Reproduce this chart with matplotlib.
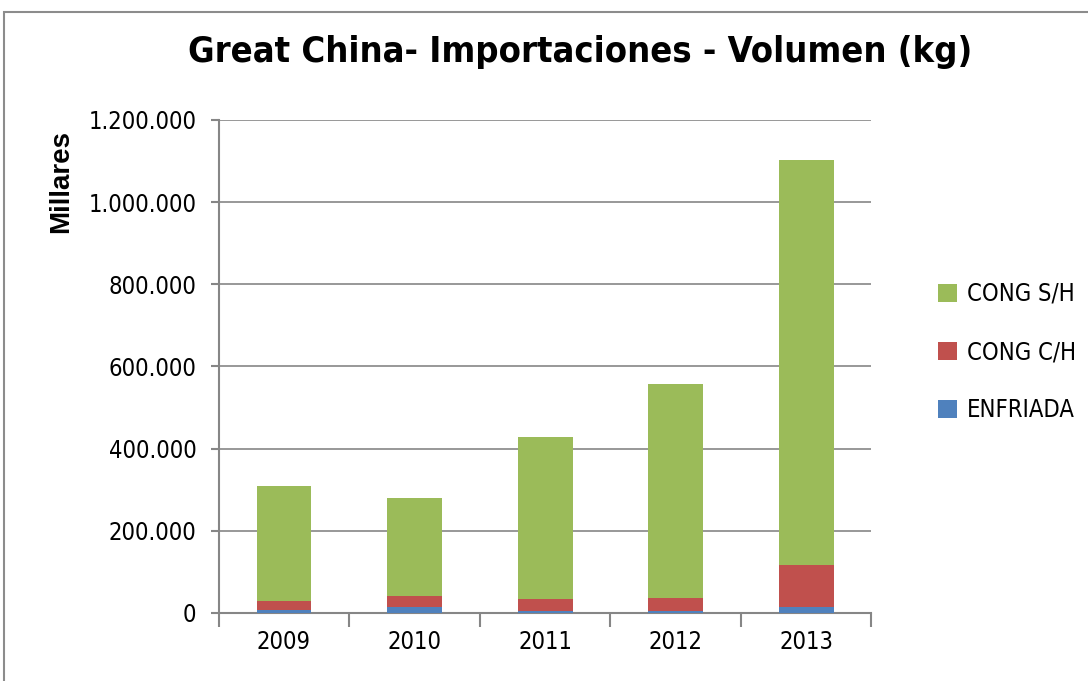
import numpy as np
import matplotlib.pyplot as plt
from matplotlib.patches import Rectangle
from matplotlib.ticker import FuncFormatter

years = ['2009', '2010', '2011', '2012', '2013']
enfriada = [8000, 15000, 6000, 6000, 15000]
cong_ch = [20000, 26000, 27000, 31000, 102000]
cong_sh = [282000, 240000, 395000, 521000, 985000]

plt.rcParams['font.family'] = ['DejaVu Sans']
plt.rcParams['font.stretch'] = 'condensed'

fig = plt.figure(figsize=(10.88, 6.81), dpi=100)
ax = fig.add_axes([0.201, 0.0999, 0.600, 0.7239])

# outer frame of the chart area
fig.patches.append(Rectangle((0.004, -0.02), 1.1, 1.002, transform=fig.transFigure,
                             fill=False, edgecolor='#8c8c8c', linewidth=1.5))

x = np.arange(len(years))
w = 0.42
e = np.array(enfriada)
c = np.array(cong_ch)
s = np.array(cong_sh)
ax.bar(x, e, w, color='#4F81BD', label='ENFRIADA', zorder=3)
ax.bar(x, c, w, bottom=e, color='#C0504D', label='CONG C/H', zorder=3)
ax.bar(x, s, w, bottom=e + c, color='#9BBB59', label='CONG S/H', zorder=3)

ax.set_xlim(-0.5, len(years) - 0.5)
ax.set_ylim(0, 1200000)
ax.set_yticks(np.arange(0, 1200001, 200000))
ax.yaxis.set_major_formatter(FuncFormatter(lambda v, p: f'{int(v):,}'.replace(',', '.')))
ax.grid(axis='y', color='#868686', linewidth=1.2, zorder=0)

ax.set_xticks(np.arange(-0.5, len(years), 1.0))
ax.set_xticklabels([])
ax.set_xticks(x, minor=True)
ax.set_xticklabels(years, minor=True)
ax.tick_params(axis='x', which='major', length=10, width=1.5, color='#868686')
ax.tick_params(axis='x', which='minor', length=0, pad=12, labelsize=17)
ax.tick_params(axis='y', length=6, width=1.5, color='#868686', labelsize=17, pad=10)

for side in ['top', 'right']:
    ax.spines[side].set_visible(False)
for side in ['left', 'bottom']:
    ax.spines[side].set_color('#868686')
    ax.spines[side].set_linewidth(1.5)

fig.text(0.533, 0.924, 'Great China- Importaciones - Volumen (kg)', ha='center', va='center',
         fontsize=26, fontweight='bold')
fig.text(0.056, 0.733, 'Millares', rotation=90, ha='center', va='center',
         fontsize=20, fontweight='bold', family=['Liberation Sans', 'DejaVu Sans'],
         fontstretch='normal')

handles, labels = ax.get_legend_handles_labels()
leg = fig.legend(handles[::-1], labels[::-1], loc='center left', bbox_to_anchor=(0.843, 0.483),
                 frameon=False, fontsize=17, handlelength=0.8, handleheight=0.8,
                 handletextpad=0.4, labelspacing=1.45)

fig.savefig('out.png', dpi=100)
